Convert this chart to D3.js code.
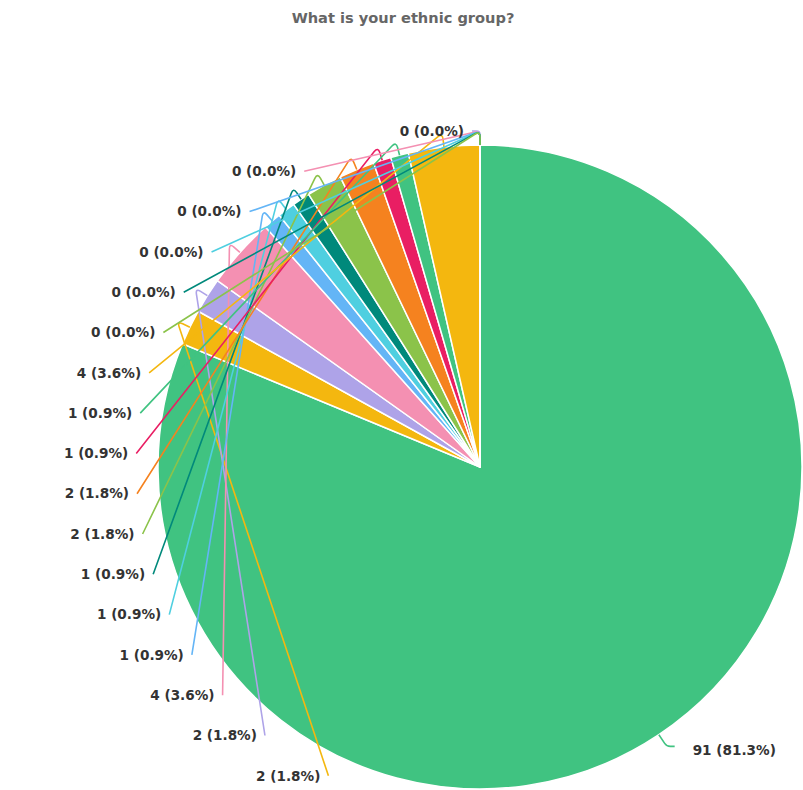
<!DOCTYPE html>
<html>
<head>
<meta charset="utf-8">
<title>What is your ethnic group?</title>
<script src="https://cdn.jsdelivr.net/npm/d3@7/dist/d3.min.js"></script>
<style>
  html, body { margin: 0; padding: 0; background: #ffffff; }
  svg { display: block; }
  text { font-family: "DejaVu Sans", sans-serif; font-weight: bold; }
</style>
</head>
<body>
<svg id="chart" width="803" height="790"></svg>
<script>
// Survey answers, in questionnaire order
const categories = [
  "English / Welsh / Scottish / Northern Irish / British",
  "Irish",
  "Gypsy or Irish Traveller",
  "Any other White background",
  "White and Black Caribbean",
  "White and Black African",
  "White and Asian",
  "Any other Mixed / Multiple background",
  "Indian",
  "Pakistani",
  "Bangladeshi",
  "Chinese",
  "Any other Asian background",
  "African",
  "Caribbean",
  "Any other Black background",
  "Arab",
  "Any other ethnic group"
];
const counts = [91, 2, 2, 4, 1, 1, 1, 2, 2, 1, 1, 4, 0, 0, 0, 0, 0, 0];
const palette = ["#40c381", "#f4b70f", "#aea3e8", "#f490b2", "#64b5f6",
                 "#4fcfe0", "#00897b", "#8bc34a", "#f5821f", "#e91e63"];
const title = "What is your ethnic group?";

const W = 803, H = 790;
const cx = 480, cy = 467, radius = 322;
const len1 = 14, len2 = 8;          // leader line: radial part, horizontal part
const labelGap = 40.3;              // minimum vertical distance between labels

const svg = d3.select("#chart");
const color = d3.scaleOrdinal().domain(d3.range(categories.length)).range(palette);
const total = d3.sum(counts);

svg.append("text")
  .attr("x", 403).attr("y", 18).attr("dy", "0.35em")
  .attr("text-anchor", "middle")
  .attr("fill", "#666666")
  .style("font-size", "14.6px")
  .text(title);

const pie = d3.pie().sort(null).value(d => d);
const arcs = pie(counts);
const arc = d3.arc().innerRadius(0).outerRadius(radius);

const g = svg.append("g").attr("transform", `translate(${cx},${cy})`);

g.selectAll("path.slice")
  .data(arcs)
  .join("path")
  .attr("class", "slice")
  .attr("d", arc)
  .attr("fill", (d, i) => color(i))
  .attr("stroke", "#ffffff")
  .attr("stroke-width", 1.5)
  .attr("stroke-linejoin", "round");

// label placement: start next to the slice, then push apart vertically
const polar = (r, a) => [cx + r * Math.sin(a), cy - r * Math.cos(a)];
const items = arcs.map((a, i) => {
  const mid = (a.startAngle + a.endAngle) / 2;
  const left = mid > Math.PI;
  const edge = polar(radius, mid);
  const elbow = polar(radius + len1, mid);
  return {
    i, mid, left, edge, elbow,
    x: elbow[0] + (left ? -len2 : len2),
    y: elbow[1],
    text: `${counts[i]} (${(counts[i] / total * 100).toFixed(1)}%)`
  };
});

const ringR = radius + len1 + len2;
[true, false].forEach(side => {
  const list = items.filter(d => d.left === side).sort((a, b) => a.y - b.y);
  for (let k = 1; k < list.length; k++) {
    const prev = list[k - 1], cur = list[k];
    if (cur.y < prev.y + labelGap) {
      cur.y = prev.y + labelGap;
      const dy = cur.y - cy;
      const dx = Math.sqrt(Math.max(0, ringR * ringR - dy * dy));
      cur.x = side ? cx - dx : cx + dx;
    }
  }
});

// leader line with a softened corner at the elbow
function leader(d) {
  const p0 = d.edge, p1 = d.elbow, p2 = [d.x, d.y];
  const l01 = Math.hypot(p1[0] - p0[0], p1[1] - p0[1]);
  const l12 = Math.hypot(p2[0] - p1[0], p2[1] - p1[1]);
  const rr = Math.min(6, l01 * 0.45, l12 * 0.45);
  const a = l01 > 0 ? [p1[0] + (p0[0] - p1[0]) * rr / l01, p1[1] + (p0[1] - p1[1]) * rr / l01] : p1;
  const b = l12 > 0 ? [p1[0] + (p2[0] - p1[0]) * rr / l12, p1[1] + (p2[1] - p1[1]) * rr / l12] : p1;
  const path = d3.path();
  path.moveTo(p0[0], p0[1]);
  path.lineTo(a[0], a[1]);
  path.quadraticCurveTo(p1[0], p1[1], b[0], b[1]);
  path.lineTo(p2[0], p2[1]);
  return path.toString();
}

svg.append("g").selectAll("path")
  .data(items)
  .join("path")
  .attr("d", leader)
  .attr("fill", "none")
  .attr("stroke", d => color(d.i))
  .attr("stroke-width", 1.6);

svg.append("g").selectAll("text")
  .data(items)
  .join("text")
  .attr("x", d => d.left ? d.x - 8 : d.x + 18)
  .attr("y", d => d.left ? d.y : d.y + 4)
  .attr("dy", "0.35em")
  .attr("text-anchor", d => d.left ? "end" : "start")
  .attr("fill", "#333333")
  .style("font-size", "13.6px")
  .text(d => d.text);
</script>
</body>
</html>
